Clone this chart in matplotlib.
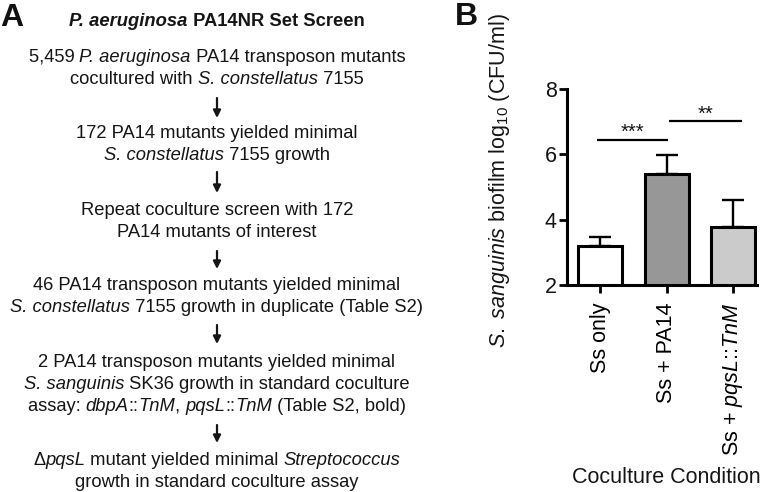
import matplotlib
matplotlib.use('Agg')
import matplotlib.pyplot as plt
from matplotlib.patches import FancyArrowPatch

plt.rcParams['font.family'] = ['Liberation Sans', 'DejaVu Sans']
plt.rcParams['mathtext.fontset'] = 'custom'
plt.rcParams['mathtext.rm'] = 'Liberation Sans'
plt.rcParams['mathtext.it'] = 'Liberation Sans:italic'
plt.rcParams['mathtext.bf'] = 'Liberation Sans:bold'

# ---------------- data: panel B ----------------
categories = ['Ss only', 'Ss + PA14', r'Ss + $\mathit{pqsL}$::$\mathit{TnM}$']
means = [3.18, 5.40, 3.78]
sem_upper = [0.28, 0.58, 0.82]
bar_colors = ['#ffffff', '#979797', '#cbcbcb']
y_ticks = [2, 4, 6, 8]
sig_labels = ['***', '**']
sig_heights = [6.45, 7.02]
sig_spans = [(-0.05, 1.02), (1.03, 2.13)]

# ---------------- data: panel A (flow chart text) ----------------
title_runs = [('P. aeruginosa', 'italic'), (' PA14NR Set Screen', 'normal')]
flow_steps = [
    [[('5,459 ', 'normal'), ('P. aeruginosa', 'italic'), (' PA14 transposon mutants', 'normal')],
     [('cocultured with ', 'normal'), ('S. constellatus', 'italic'), (' 7155', 'normal')]],
    [[('172 PA14 mutants yielded minimal', 'normal')],
     [('S. constellatus', 'italic'), (' 7155 growth', 'normal')]],
    [[('Repeat coculture screen with 172', 'normal')],
     [('PA14 mutants of interest', 'normal')]],
    [[('46 PA14 transposon mutants yielded minimal', 'normal')],
     [('S. constellatus', 'italic'), (' 7155 growth in duplicate (Table S2)', 'normal')]],
    [[('2 PA14 transposon mutants yielded minimal', 'normal')],
     [('S. sanguinis', 'italic'), (' SK36 growth in standard coculture', 'normal')],
     [('assay: ', 'normal'), ('dbpA', 'italic'), ('::', 'normal'), ('TnM', 'italic'), (', ', 'normal'),
      ('pqsL', 'italic'), ('::', 'normal'), ('TnM', 'italic'), (' (Table S2, bold)', 'normal')]],
    [[('\u0394', 'normal'), ('pqsL', 'italic'), (' mutant yielded minimal ', 'normal'), ('Streptococcus', 'italic')],
     [('growth in standard coculture assay', 'normal')]],
]

W, H = 766, 492
fig = plt.figure(figsize=(W / 100, H / 100), dpi=100)
renderer = fig.canvas.get_renderer()
TXT = '#151515'


def fx(px):
    return px / W


def fy(py):
    return 1 - py / H


def run_width(s, **kw):
    t1 = fig.text(0, 0, s + '|', **kw)
    t2 = fig.text(0, 0, '|', **kw)
    w = t1.get_window_extent(renderer).width - t2.get_window_extent(renderer).width
    t1.remove()
    t2.remove()
    return w


def rich_line(xc, yb, runs, size, weight='normal'):
    widths = [run_width(s, fontsize=size, fontstyle=st, fontweight=weight) for s, st in runs]
    x = xc - sum(widths) / 2
    for (s, st), w in zip(runs, widths):
        fig.text(fx(x), fy(yb), s, fontsize=size, fontstyle=st, fontweight=weight,
                 ha='left', va='baseline', color=TXT)
        x += w


def arrow(xc, y0, y1):
    a = FancyArrowPatch((fx(xc), fy(y0)), (fx(xc), fy(y1)), transform=fig.transFigure,
                        arrowstyle='-|>', mutation_scale=11, lw=1.6, color=TXT,
                        shrinkA=0, shrinkB=0)
    fig.add_artist(a)


# panel letters
fig.text(fx(0), fy(26), 'A', fontsize=23, fontweight='bold', ha='left', va='baseline', color='#111111')
fig.text(fx(455), fy(25), 'B', fontsize=23, fontweight='bold', ha='left', va='baseline', color='#111111')

# panel A flowchart
XC = 217
FS = 13.2
rich_line(XC, 26, title_runs, FS, weight='bold')
step_baselines = [[62, 84], [138, 160], [215, 237], [290, 312], [367, 389, 411], [465, 487]]
arrows_y = [(98, 118), (172, 193), (251, 269), (325, 344), (425, 443)]
for step, bls in zip(flow_steps, step_baselines):
    for runs, yb in zip(step, bls):
        rich_line(XC, yb, runs, FS)
for y0, y1 in arrows_y:
    arrow(XC, y0, y1)

# panel B bar chart
ax = fig.add_axes([fx(567), fy(285), (757 - 567) / W, (285 - 89) / H])
xpos = list(range(len(categories)))
ax.bar(xpos, [m - 2 for m in means], bottom=2, width=0.66, color=bar_colors,
       edgecolor='black', linewidth=2.2, zorder=3)
ax.errorbar(xpos, means, yerr=[[0] * len(means), sem_upper], fmt='none', ecolor='black',
            elinewidth=1.7, capsize=8, capthick=1.7, zorder=2)
ax.set_xlim(-0.5, 2.36)
ax.set_ylim(2, 8)
ax.set_yticks(y_ticks)
ax.set_xticks(xpos)
ax.set_xticklabels(categories, rotation=90, fontsize=15.5, color=TXT)
ax.tick_params(axis='y', labelsize=15.5, length=5.5, width=2, pad=2, colors='black', labelcolor=TXT)
ax.tick_params(axis='x', length=5.5, width=2, pad=7, colors='black')
for s in ['top', 'right']:
    ax.spines[s].set_visible(False)
for s in ['left', 'bottom']:
    ax.spines[s].set_linewidth(2.2)

for lab, h, (x0, x1) in zip(sig_labels, sig_heights, sig_spans):
    ax.plot([x0, x1], [h, h], color='black', lw=1.6, clip_on=False, solid_capstyle='butt')
    ax.annotate(lab, xy=((x0 + x1) / 2, h), xytext=(0, 1), textcoords='offset points',
                ha='center', va='baseline', fontsize=14.5, color=TXT, annotation_clip=False)

ax.set_ylabel(r'$\mathit{S.}$ $\mathit{sanguinis}$ biofilm log$_{\mathrm{10}}$ (CFU/ml)', fontsize=15.5, color=TXT)
ax.yaxis.set_label_coords((512 - 567) / 190, (285 - 180.5) / 196)
fig.text(fx(666), fy(483), 'Coculture Condition', fontsize=15.5, ha='center', va='baseline', color=TXT)

fig.savefig('out.png', dpi=100)
